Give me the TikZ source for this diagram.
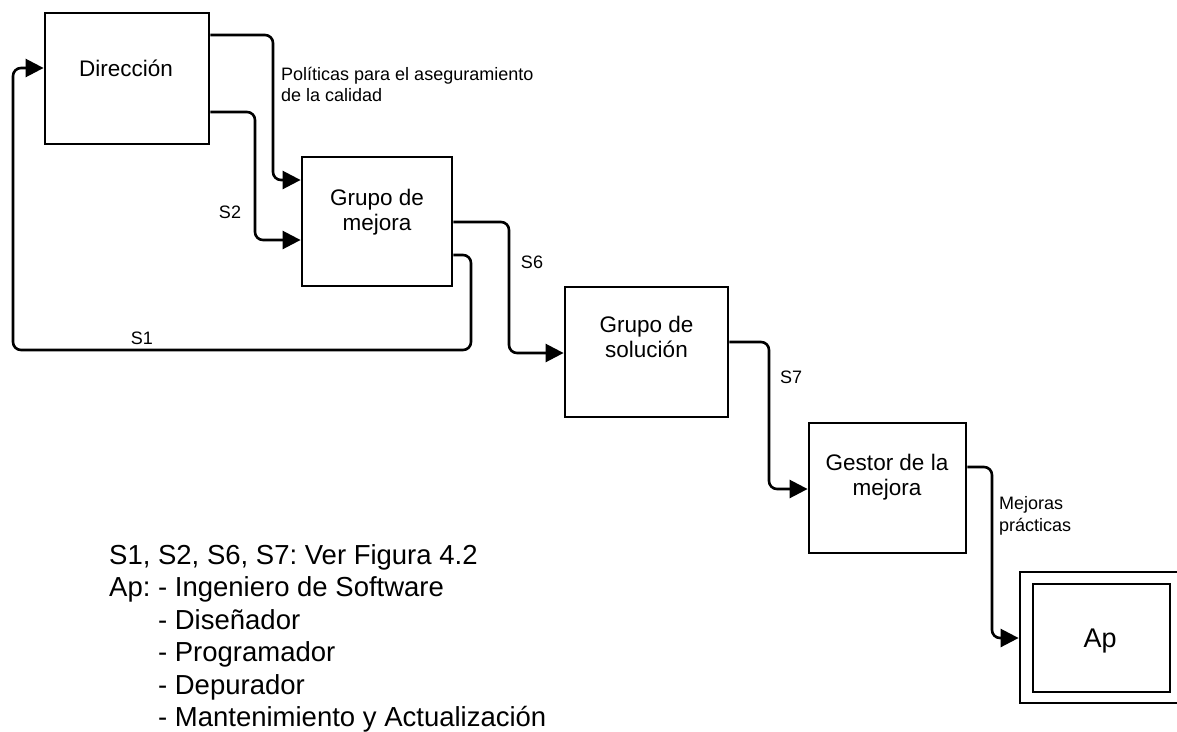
\documentclass[tikz,border=0pt]{standalone}
\usepackage{fontspec}
\setmainfont{Liberation Sans}
\usetikzlibrary{arrows.meta}
\frenchspacing
% two centred lines whose baseline is the first line
\newcommand\boxlines[2]{\begin{tabular}[t]{@{}c@{}}#1\\#2\end{tabular}}
\newcommand\leftlines[2]{\begin{tabular}[t]{@{}l@{}}#1\\#2\end{tabular}}
\begin{document}
\begin{tikzpicture}[x=1pt,y=-1pt,
  block/.style={draw, line width=2.8pt, inner sep=0pt, fill=white},
  conn/.style={draw, line width=2.6pt, rounded corners=8pt,
               -{Triangle[length=18pt,width=18pt]}},
  boxtext/.style={inner sep=0pt, anchor=base, font=\fontsize{22.5}{25.5}\selectfont},
  lab/.style={inner sep=0pt, anchor=base, font=\fontsize{18}{21.5}\selectfont},
  legend/.style={inner sep=0pt, anchor=base west, font=\fontsize{27.5}{32.5}\selectfont}]
\useasboundingbox (0,0) rectangle (1177,731);

% process boxes
\node[block, minimum width=164pt, minimum height=131pt] (dir) at (127,78.5) {};
\node[block, minimum width=150pt, minimum height=129pt] (mej) at (377,221.5) {};
\node[block, minimum width=163pt, minimum height=130pt] (sol) at (646.5,352) {};
\node[block, minimum width=157pt, minimum height=130pt] (ges) at (887.5,488) {};
\node[block, minimum width=163pt, minimum height=131pt] (apo) at (1101.5,637.5) {};
\node[block, minimum width=137pt, minimum height=108pt] (api) at (1101.5,638) {};

% box captions
\node[boxtext] (dirT) at (126,76) {Dirección};
\node[boxtext] (mejT) at (377,205) {\boxlines{Grupo de}{mejora}};
\node[boxtext] (solT) at (646.5,332) {\boxlines{Grupo de}{solución}};
\node[boxtext] (gesT) at (887,470) {\boxlines{Gestor de la}{mejora}};
\node[boxtext, font=\fontsize{27}{30}\selectfont] (apT) at (1100,647.5) {Ap};

% flows
\draw[conn] (dir.east |- 0,35) -| (273,180) -- (mej.west |- 0,180);
\draw[conn] (dir.east |- 0,112) -| (255,240) -- (mej.west |- 0,240);
\draw[conn] (mej.east |- 0,222) -| (509,353) -- (sol.west |- 0,353);
\draw[conn] (mej.east |- 0,255) -| (471,350) -| (13,68) -- (dir.west |- 0,68);
\draw[conn] (sol.east |- 0,342) -| (769,489) -- (ges.west |- 0,489);
\draw[conn] (ges.east |- 0,467) -| (992,638) -- (apo.west |- 0,638);

% flow labels
\node[lab, anchor=base west] (polT) at (281,80)
  {\leftlines{Políticas para el aseguramiento}{de la calidad}};
\node[lab] (s2T) at (230,218.5) {S2};
\node[lab] (s6T) at (532,268.5) {S6};
\node[lab] (s1T) at (142,344.5) {S1};
\node[lab] (s7T) at (791,383.5) {S7};
\node[lab, anchor=base west] (mpT) at (999,509.5) {\leftlines{Mejoras}{prácticas}};

% key
\node[legend] (k1) at (109,564) {S1, S2, S6, S7: Ver Figura 4.2};
\node[legend] (k2) at (109,596.5) {Ap: - Ingeniero de Software};
\node[legend] (k3) at (109,629) {\phantom{Ap: }- Diseñador};
\node[legend] (k4) at (109,661.5) {\phantom{Ap: }- Programador};
\node[legend] (k5) at (109,694) {\phantom{Ap: }- Depurador};
\node[legend] (k6) at (109,726) {\phantom{Ap: }- Mantenimiento y Actualización};
\end{tikzpicture}
\end{document}
